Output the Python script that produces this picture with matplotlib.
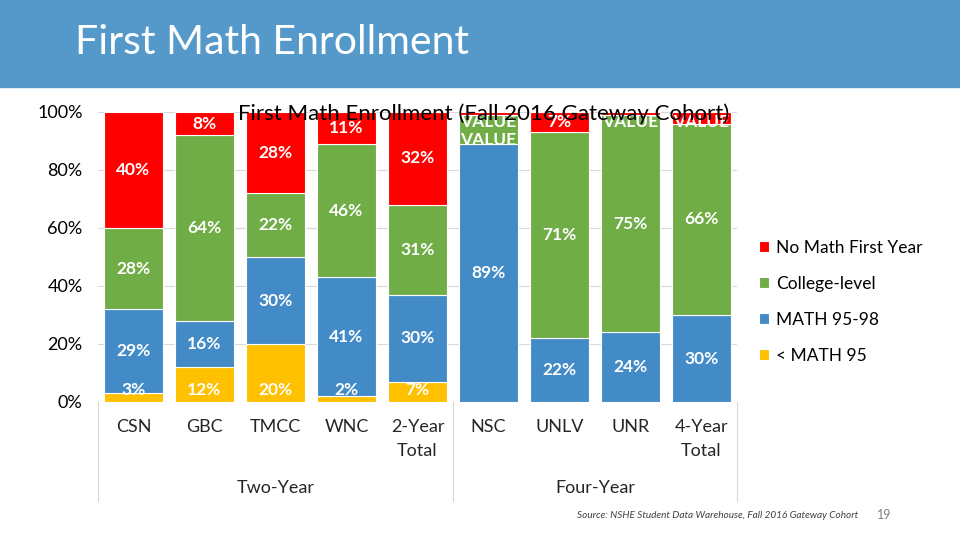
import matplotlib.pyplot as plt
import matplotlib.transforms as mtransforms
from matplotlib.patches import Rectangle

plt.rcParams['font.family'] = ['Lato', 'DejaVu Sans']

# data (percent of cohort)
schools = ["CSN", "GBC", "TMCC", "WNC", "2-Year\nTotal", "NSC", "UNLV", "UNR", "4-Year\nTotal"]
groups = ["Two-Year", "Four-Year"]
group_sizes = [5, 4]
below_95 = [3, 12, 20, 2, 7, 0, 0, 0, 0]
math_95_98 = [29, 16, 30, 41, 30, 89, 22, 24, 30]
college = [28, 64, 22, 46, 31, 10, 71, 75, 66]
no_math = [40, 8, 28, 11, 32, 1, 7, 1, 4]
series_names = ["< MATH 95", "MATH 95-98", "College-level", "No Math First Year"]
# labels that show up as "VALUE" in the original chart
value_labels = {(3, 5), (2, 5), (3, 7), (3, 8)}

colors = ["#FFC000", "#428BC6", "#70AD47", "#FF0000"]

fig = plt.figure(figsize=(9.6, 5.4), dpi=100)

# header band
fig.patches.append(Rectangle((0, 1 - 87 / 540), 1, 87 / 540, transform=fig.transFigure,
                             color="#5599CB", zorder=0))
fig.text(75 / 960, 1 - 43 / 540, "First Math Enrollment", color="white", fontsize=29.5,
         va="center", ha="left")

ax = fig.add_axes([98 / 960, 1 - 402 / 540, 639 / 960, 290 / 540])
x = list(range(len(schools)))
series = [below_95, math_95_98, college, no_math]
bottom = [0] * len(schools)
for k, vals in enumerate(series):
    ax.bar(x, vals, 0.82, bottom=bottom, color=colors[k], edgecolor="white", linewidth=0.8,
           label=series_names[k], zorder=2)
    for i, v in enumerate(vals):
        if (k, i) in value_labels:
            y = 96.6 if k == 3 else 90.3
            ax.text(i, y, "VALUE", color="white", fontsize=12.5, fontweight="bold",
                    ha="center", va="center", zorder=7, clip_on=False)
        elif v > 0:
            y = 4.2 if k == 0 else bottom[i] + v / 2
            ax.text(i, y, f"{v}%", color="white", fontsize=12.5, fontweight="bold",
                    ha="center", va="center", zorder=4)
    bottom = [b + v for b, v in zip(bottom, vals)]

ax.set_xlim(-0.5, len(schools) - 0.5)
ax.set_ylim(0, 100)
ax.set_yticks(range(0, 101, 20))
ax.set_yticklabels([f"{t}%" for t in range(0, 101, 20)], fontsize=13)
ax.tick_params(axis="y", length=0, pad=11)
ax.set_xticks([])
ax.grid(axis="y", color="#D9D9D9", linewidth=0.8, zorder=0)
for s in ax.spines.values():
    s.set_visible(False)

trans = mtransforms.blended_transform_factory(ax.transData, ax.transAxes)
for i, name in enumerate(schools):
    ax.text(i, -0.06, name, transform=trans, ha="center", va="top", fontsize=13,
            color="#262626", linespacing=1.6)

# two-level category axis
edges = [-0.5]
for n in group_sizes:
    edges.append(edges[-1] + n)
for e in edges:
    ax.plot([e, e], [0, -0.34], transform=trans, color="#D9D9D9", linewidth=0.8, clip_on=False)
for g, name in enumerate(groups):
    ax.text((edges[g] + edges[g + 1]) / 2, -0.295, name, transform=trans, ha="center",
            va="center", fontsize=13, color="#262626")

fig.text(484 / 960, 1 - 114 / 540, "First Math Enrollment (Fall 2016 Gateway Cohort)",
         fontsize=16, ha="center", va="center", color="black", zorder=6)

handles, labels = ax.get_legend_handles_labels()
ax.legend(handles[::-1], labels[::-1], loc="center left", bbox_to_anchor=(1.01, 0.345),
          frameon=False, fontsize=12.5, handlelength=0.6, handleheight=0.6,
          labelspacing=1.15, handletextpad=0.4)

fig.text(577 / 960, 1 - 515 / 540, "Source: NSHE Student Data Warehouse, Fall 2016 Gateway Cohort",
         fontsize=7.2, style="italic", color="#404040", va="center")
fig.text(877 / 960, 1 - 515 / 540, "19", fontsize=9, color="#808080", va="center")

plt.savefig("out.png", dpi=100)
